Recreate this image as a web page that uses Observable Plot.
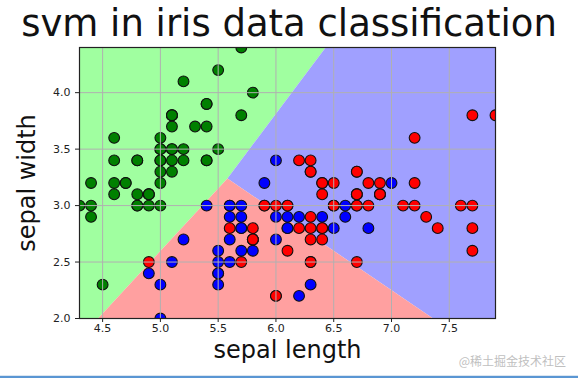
<!DOCTYPE html>
<html><head><meta charset="utf-8">
<script src="https://cdn.jsdelivr.net/npm/d3@7"></script>
<script src="https://cdn.jsdelivr.net/npm/@observablehq/plot@0.6"></script>
<style>
body{margin:0;background:#fff;}
#wrap{position:relative;width:578px;height:378px;overflow:hidden;font-family:"DejaVu Sans",sans-serif;}
#chart{position:absolute;left:0;top:0;}
#title{position:absolute;left:0;width:578px;text-align:center;top:4px;font-size:37px;line-height:40px;color:#111;white-space:nowrap;}
#wm{position:absolute;right:12px;top:352px;font-family:"Noto Sans CJK SC",sans-serif;font-size:12px;color:#bfbfbf;white-space:nowrap;}
#edge1{position:absolute;left:0;top:375px;width:578px;height:1px;background:#dbe6f1;}
#edge2{position:absolute;left:0;top:376px;width:578px;height:2px;background:#5a96d3;}
</style></head><body>
<div id="wrap"><div id="chart"></div><div id="title">svm in iris data classification</div><div id="wm">@稀土掘金技术社区</div><div id="edge1"></div><div id="edge2"></div></div>
<script>
// Iris sepal length / width (as plotted), species 0=setosa,1=versicolor,2=virginica
const sepalLength = [
5.1,4.9,4.7,4.6,5.0,5.4,4.6,5.0,4.4,4.9,5.4,4.8,4.8,4.3,5.8,5.7,5.4,5.1,5.7,5.1,5.4,5.1,4.6,5.1,4.8,5.0,5.0,5.2,5.2,4.7,4.8,5.4,5.2,5.5,4.9,5.0,5.5,4.9,4.4,5.1,5.0,4.5,4.4,5.0,5.1,4.8,5.1,4.6,5.3,5.0,
7.0,6.4,6.9,5.5,6.5,5.7,6.3,4.9,6.6,5.2,5.0,5.9,6.0,6.1,5.6,6.7,5.6,5.8,6.2,5.6,5.9,6.1,6.3,6.1,6.4,6.6,6.8,6.7,6.0,5.7,5.5,5.5,5.8,6.0,5.4,6.0,6.7,6.3,5.6,5.5,5.5,6.1,5.8,5.0,5.6,5.7,5.7,6.2,5.1,5.7,
6.3,5.8,7.1,6.3,6.5,7.6,4.9,7.3,6.7,7.2,6.5,6.4,6.8,5.7,5.8,6.4,6.5,7.7,7.7,6.0,6.9,5.6,7.7,6.3,6.7,7.2,6.2,6.1,6.4,7.2,7.4,7.9,6.4,6.3,6.1,7.7,6.3,6.4,6.0,6.9,6.7,6.9,5.8,6.8,6.7,6.7,6.3,6.5,6.2,5.9];
const sepalWidth = [
3.5,3.0,3.2,3.1,3.6,3.9,3.4,3.4,2.9,3.1,3.7,3.4,3.0,3.0,4.0,4.4,3.9,3.5,3.8,3.8,3.4,3.7,3.6,3.3,3.4,3.0,3.4,3.5,3.4,3.2,3.1,3.4,4.1,4.2,3.1,3.2,3.5,3.1,3.0,3.4,3.5,2.3,3.2,3.5,3.8,3.0,3.8,3.2,3.7,3.3,
3.2,3.2,3.1,2.3,2.8,2.8,3.3,2.4,2.9,2.7,2.0,3.0,2.2,2.9,2.9,3.1,3.0,2.7,2.2,2.5,3.2,2.8,2.5,2.8,2.9,3.0,2.8,3.0,2.9,2.6,2.4,2.4,2.7,2.7,3.0,3.4,3.1,2.3,3.0,2.5,2.6,3.0,2.6,2.3,2.7,3.0,2.9,2.9,2.5,2.8,
3.3,2.7,3.0,2.9,3.0,3.0,2.5,2.9,2.5,3.6,3.2,2.7,3.0,2.5,2.8,3.2,3.0,3.8,2.6,2.2,3.2,2.8,2.8,2.7,3.3,3.2,2.8,3.0,2.8,3.0,2.8,3.8,2.8,2.8,2.6,3.0,3.4,3.1,3.0,3.1,3.1,3.1,2.7,3.2,3.3,3.0,2.5,3.0,3.4,3.0];
const species = sepalLength.map((_, i) => Math.floor(i / 50));
const speciesNames = [0, 1, 2];
const pointColors = ["#008000", "#0000ff", "#ff0000"];

// decision regions (vertices, data units)
const greenRegion = [[4.3,4.4],[6.43,4.4],[5.58,3.24],[4.46,2.0],[4.3,2.0]];
const blueRegion  = [[6.43,4.4],[7.9,4.4],[7.9,2.0],[7.36,2.0],[5.58,3.24]];
const redRegion   = [[5.58,3.24],[7.36,2.0],[4.46,2.0]];
const regionColors = ["#a0ffa0", "#a0a0ff", "#ffa0a0"];

const xTicks = [4.5,5.0,5.5,6.0,6.5,7.0,7.5];
const yTicks = [2.0,2.5,3.0,3.5,4.0];
const xLabel = "sepal length";
const yLabel = "sepal width";

const points = sepalLength.map((x, i) => ({x, y: sepalWidth[i], s: species[i]}));
const region = (pts, fill) => Plot.line(pts, {x: d => d[0], y: d => d[1], fill, stroke: null, curve: "linear-closed"});

const chart = Plot.plot({
  width: 578, height: 378,
  marginLeft: 79, marginRight: 83, marginTop: 47, marginBottom: 60,
  style: {fontFamily: "DejaVu Sans, sans-serif", fontSize: "11px", color: "#222", background: "transparent"},
  x: {domain: [4.3, 7.9]},
  y: {domain: [2.0, 4.4]},
  color: {domain: speciesNames, range: pointColors},
  marks: [
    region(greenRegion, regionColors[0]),
    region(blueRegion, regionColors[1]),
    region(redRegion, regionColors[2]),
    Plot.dot(points, {x: "x", y: "y", fill: "s", stroke: "#111", strokeWidth: 1.1, r: 5.4, clip: true}),
    Plot.gridX(xTicks, {stroke: "#b0b0b0", strokeOpacity: 1, strokeWidth: 1}),
    Plot.gridY(yTicks, {stroke: "#b0b0b0", strokeOpacity: 1, strokeWidth: 1}),
    Plot.frame({stroke: "#222", strokeWidth: 1.2}),
    Plot.axisX(xTicks, {tickFormat: d => d.toFixed(1), tickSize: 4, tickPadding: 2, label: null, fontSize: 11}),
    Plot.axisY(yTicks, {tickFormat: d => d.toFixed(1), tickSize: 4, tickPadding: 5, label: null, fontSize: 11}),
    Plot.text([xLabel], {text: d => d, frameAnchor: "bottom", textAnchor: "middle", dy: 39, fontSize: 24, fill: "#111"}),
    Plot.text([yLabel], {text: d => d, frameAnchor: "left", textAnchor: "middle", dx: -52, rotate: -90, fontSize: 24, fill: "#111"})
  ]
});
document.getElementById("chart").appendChild(chart);
</script>
</body></html>
